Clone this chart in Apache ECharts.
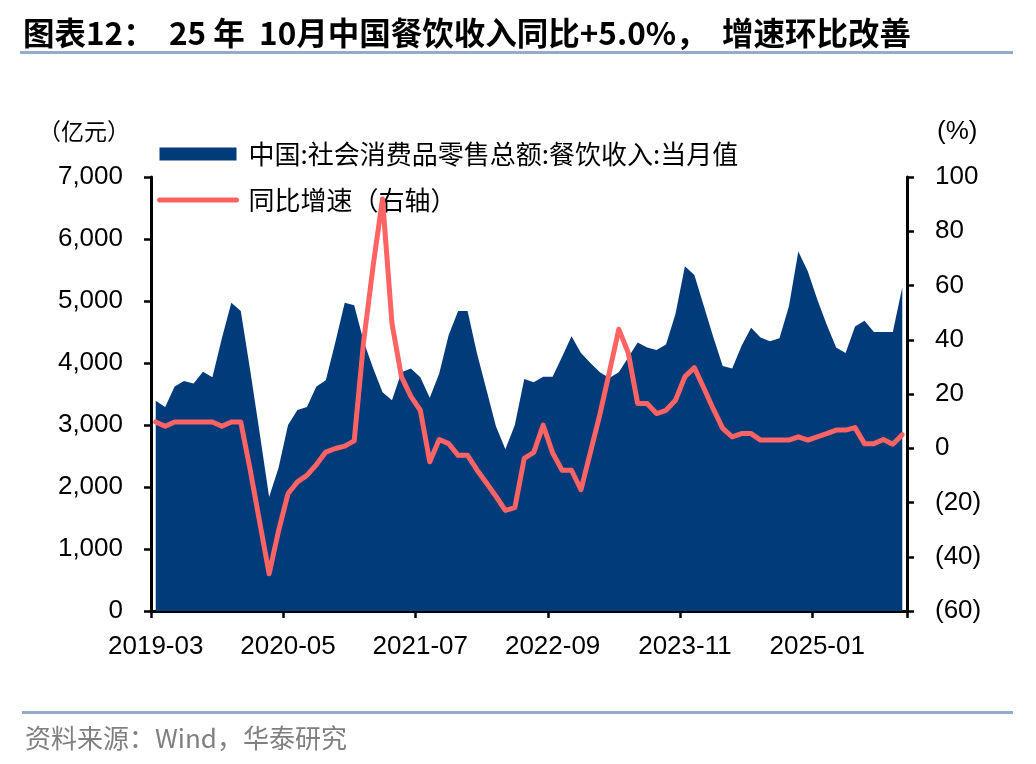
<!DOCTYPE html>
<html>
<head>
<meta charset="utf-8">
<script src="https://cdn.jsdelivr.net/npm/echarts@6/dist/echarts.min.js"></script>
<style>
  html, body { margin: 0; padding: 0; background: #fff; }
  #chart { width: 1036px; height: 764px; }
</style>
</head>
<body>
<div id="chart"></div>
<script>
// ---- Data ----
const categories = [
  '2019-03','2019-04','2019-05','2019-06','2019-07','2019-08','2019-09','2019-10','2019-11','2019-12',
  '2020-01','2020-02','2020-03','2020-04','2020-05','2020-06','2020-07','2020-08','2020-09','2020-10','2020-11','2020-12',
  '2021-01','2021-02','2021-03','2021-04','2021-05','2021-06','2021-07','2021-08','2021-09','2021-10','2021-11','2021-12',
  '2022-01','2022-02','2022-03','2022-04','2022-05','2022-06','2022-07','2022-08','2022-09','2022-10','2022-11','2022-12',
  '2023-01','2023-02','2023-03','2023-04','2023-05','2023-06','2023-07','2023-08','2023-09','2023-10','2023-11','2023-12',
  '2024-01','2024-02','2024-03','2024-04','2024-05','2024-06','2024-07','2024-08','2024-09','2024-10','2024-11','2024-12',
  '2025-01','2025-02','2025-03','2025-04','2025-05','2025-06','2025-07','2025-08','2025-09','2025-10'
];
// 中国:社会消费品零售总额:餐饮收入:当月值 (亿元)
const cateringRevenue = [
  3390,3290,3620,3710,3670,3860,3770,4400,4970,4840,
  3880,2870,1840,2310,3000,3240,3290,3620,3720,4330,4970,4930,
  4350,3920,3530,3400,3850,3910,3770,3440,3830,4450,4840,4840,
  4155,3570,2980,2610,3000,3740,3690,3780,3780,4100,4430,4160,
  4000,3850,3760,3850,4090,4330,4250,4210,4300,4790,5560,5420,
  4920,4420,3950,3910,4280,4570,4410,4350,4400,4910,5800,5480,
  5030,4620,4250,4160,4590,4680,4500,4500,4500,5220
];
// 同比增速 (%)
const yoyGrowth = [
  9.7,8.1,9.7,9.7,9.7,9.7,9.7,8.1,9.7,9.7,
  -8.0,-27.2,-46.3,-30.4,-16.7,-12.4,-10.0,-6.0,-1.4,-0.1,0.8,2.7,
  39.4,67.1,91.9,46.1,26.4,19.1,14.0,-5.0,3.2,1.7,-2.6,-2.6,
  -8.0,-12.8,-17.7,-22.9,-21.9,-3.7,-1.5,8.5,-1.7,-8.1,-8.1,-15.3,
  -1.4,12.5,28.0,43.9,35.2,16.5,16.5,12.8,14.0,17.7,26.4,29.7,
  22.2,14.5,7.3,4.2,5.4,5.4,3.0,3.0,3.0,3.0,4.2,3.0,
  4.2,5.4,6.7,6.7,7.6,1.7,1.7,3.2,1.5,5.0
];
const seriesNames = ['中国:社会消费品零售总额:餐饮收入:当月值', '同比增速（右轴）'];
const titleText = '图表12：  25 年  10月中国餐饮收入同比+5.0%，  增速环比改善';
const sourceText = '资料来源：Wind，华泰研究';
const leftUnit = '（亿元）';
const rightUnit = '(%)';

// ---- Chart ----
const chart = echarts.init(document.getElementById('chart'), null, { renderer: 'canvas' });
const numFont = 'Liberation Sans, Arial, sans-serif';
const cjkFont = 'Noto Sans CJK SC, sans-serif';
const BLUE = '#023B7A';
const RED = '#FF6363';

const option = {
  animation: false,
  backgroundColor: '#fff',
  title: {
    text: titleText,
    left: 18,
    top: 12,
    textStyle: { fontFamily: cjkFont, fontWeight: 'bold', fontSize: 31.5, color: '#000' }
  },
  graphic: [
    { type: 'rect', shape: { x: 20, y: 51, width: 993, height: 3 }, style: { fill: '#93ACCB' }, silent: true },
    { type: 'rect', shape: { x: 22, y: 711, width: 991, height: 3 }, style: { fill: '#93ACCB' }, silent: true },
    { type: 'text', left: 25, top: 725, style: { text: sourceText, fontFamily: cjkFont, fontSize: 26, fill: '#808080' } }
  ],
  legend: {
    orient: 'vertical',
    left: 157,
    top: 139,
    padding: 0,
    itemWidth: 77,
    itemHeight: 13,
    itemGap: 16,
    selectedMode: false,
    textStyle: { fontFamily: cjkFont, fontSize: 26, color: '#000', lineHeight: 30, padding: [0, 0, 0, 7] },
    data: [
      { name: seriesNames[0], icon: 'rect' },
      {
        name: seriesNames[1],
        itemStyle: { color: 'rgba(0,0,0,0)', borderColor: 'rgba(0,0,0,0)', borderWidth: 0, opacity: 0 },
        lineStyle: { color: RED, width: 5, cap: 'round' }
      }
    ]
  },
  grid: { left: 151, right: 129, top: 177, bottom: 153, containLabel: false },
  xAxis: {
    type: 'category',
    data: categories,
    boundaryGap: true,
    axisLine: { show: true, lineStyle: { color: '#000', width: 3 } },
    axisTick: { show: true, interval: 13, length: 7, lineStyle: { color: '#000', width: 2.5 } },
    axisLabel: { interval: 13, margin: 23, fontFamily: numFont, fontSize: 26, color: '#000' },
    splitLine: { show: false }
  },
  yAxis: [
    {
      type: 'value',
      min: 0, max: 7000, interval: 1000,
      name: leftUnit,
      nameLocation: 'end',
      nameGap: 46,
      nameTextStyle: { fontFamily: cjkFont, fontSize: 23, color: '#000', align: 'right', verticalAlign: 'middle', padding: [0, 21, 0, 0] },
      axisLine: { show: true, lineStyle: { color: '#000', width: 3 } },
      axisTick: { show: true, length: 7, lineStyle: { color: '#000', width: 2.5 } },
      axisLabel: {
        margin: 28, fontFamily: numFont, fontSize: 26, color: '#000',
        formatter: v => String(v).replace(/\B(?=(\d{3})+(?!\d))/g, ',')
      },
      splitLine: { show: false }
    },
    {
      type: 'value',
      min: -60, max: 100, interval: 20,
      name: rightUnit,
      nameLocation: 'end',
      nameGap: 45,
      nameTextStyle: { fontFamily: numFont, fontSize: 26, color: '#000', align: 'left', verticalAlign: 'middle', padding: [0, 0, 0, 30] },
      axisLine: { show: true, lineStyle: { color: '#000', width: 3 } },
      axisTick: { show: true, length: 7, lineStyle: { color: '#000', width: 2.5 } },
      axisLabel: {
        margin: 28, fontFamily: numFont, fontSize: 26, color: '#000',
        formatter: v => (v < 0 ? '(' + (-v) + ')' : String(v))
      },
      splitLine: { show: false }
    }
  ],
  series: [
    {
      name: seriesNames[0],
      type: 'line',
      yAxisIndex: 0,
      data: cateringRevenue,
      symbol: 'none',
      itemStyle: { color: BLUE },
      lineStyle: { width: 0, color: BLUE },
      areaStyle: { color: BLUE, opacity: 1 },
      z: 2
    },
    {
      name: seriesNames[1],
      type: 'line',
      yAxisIndex: 1,
      data: yoyGrowth,
      symbol: 'none',
      itemStyle: { color: RED },
      lineStyle: { width: 5, color: RED, cap: 'round', join: 'round' },
      z: 4
    }
  ]
};
chart.setOption(option);
</script>
</body>
</html>
